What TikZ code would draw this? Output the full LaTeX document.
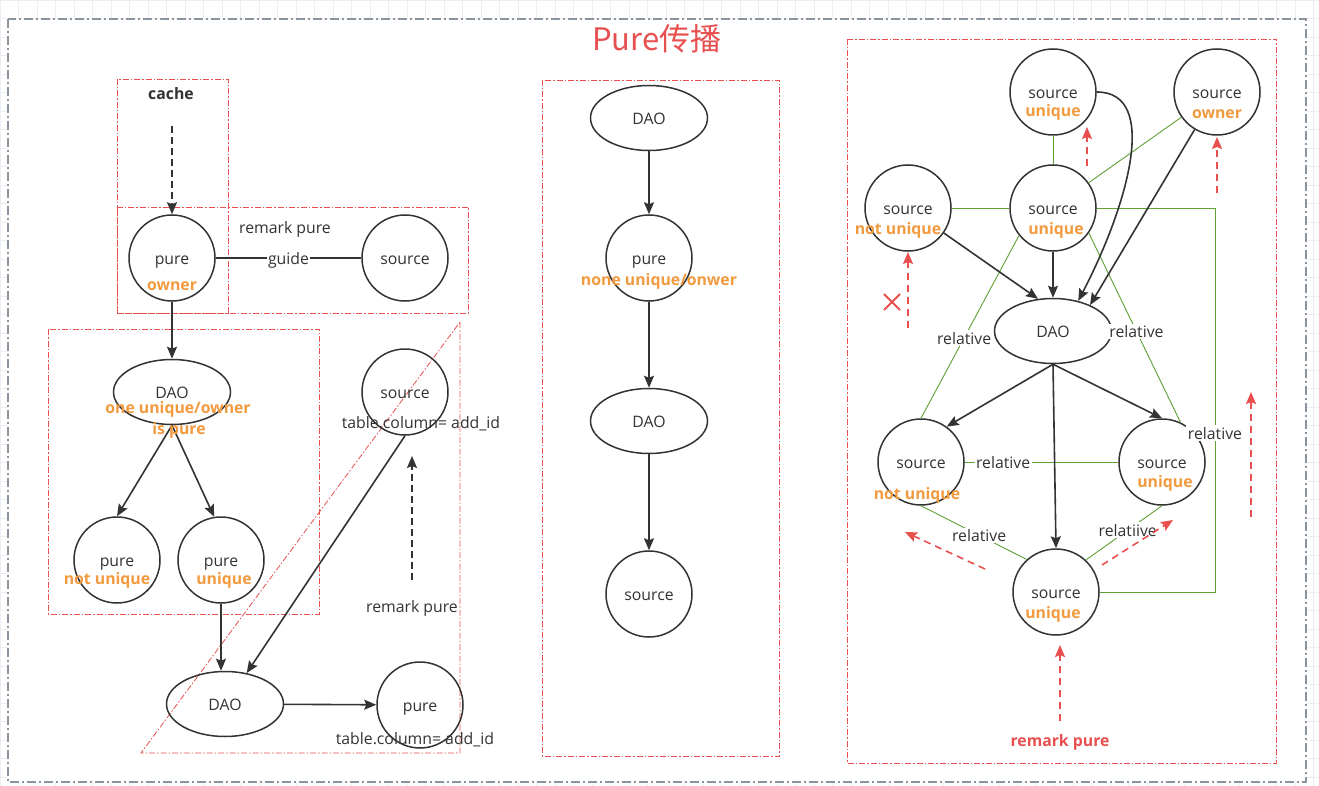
\documentclass[tikz,border=0pt]{standalone}
\usepackage{fontspec}
\setmainfont{Open Sans}
\newfontfamily\cjk{Noto Sans CJK SC}
\usetikzlibrary{shapes.geometric,arrows.meta}
\definecolor{ink}{HTML}{333333}
\definecolor{redline}{HTML}{E85050}
\definecolor{orng}{HTML}{F29A3E}
\definecolor{relgreen}{HTML}{5FA033}
\definecolor{framegray}{HTML}{8A949E}
\definecolor{gridgray}{HTML}{EDEEF2}
\newcommand{\txt}{\fontsize{15.8}{19}\selectfont}

\begin{document}
\begin{tikzpicture}[x=1pt, y=-1pt,
  every node/.style={font=\txt, text=ink, inner sep=1pt, text height=12.5pt, text depth=0pt},
  circ/.style={circle, draw=ink, line width=1.5pt, minimum size=86pt, inner sep=0pt},
  oval/.style={ellipse, draw=ink, line width=1.5pt, minimum width=117pt, minimum height=65pt, inner sep=0pt},
  hint/.style={text=orng, font=\txt\bfseries},
  lbl/.style={fill=white, inner sep=1.5pt}]
  \tikzstyle{arr}=[draw=ink, line width=1.6pt, -{Stealth[length=12pt,width=10pt,inset=2pt]}]
  \tikzstyle{dasharr}=[arr, dash pattern=on 7pt off 4pt]
  \tikzstyle{hintarr}=[draw=redline, line width=1.6pt, dash pattern=on 7pt off 5pt, -{Stealth[length=12pt,width=10pt,inset=2pt]}]
  \tikzstyle{rel}=[draw=relgreen, line width=0.9pt]
  \tikzstyle{zone}=[draw=redline, line width=0.8pt, dash pattern=on 6pt off 2pt on 1.5pt off 2pt]

\useasboundingbox (0,0) rectangle (1319,786);
\draw[gridgray, line width=0.6pt, step=18.5pt] (0,0) grid (1319,786);
\draw[draw=framegray, fill=white, line width=1.6pt, dash pattern=on 9pt off 3pt on 2pt off 3pt] (8,19) rectangle (1306,782);

\node[text=redline, font=\cjk\fontsize{31}{36}\selectfont, text height=22pt, text depth=0pt] (title) at (657,40) {Pure传播};

% zones
\draw[zone] (117,79) rectangle (228,313);
\draw[zone] (117,207) rectangle (468,313);
\draw[zone] (48,329) rectangle (319,614);
\draw[zone] (460,322) -- (460,753) -- (141,753) -- cycle;
\draw[zone] (542,80) rectangle (779,756);
\draw[zone] (847,39) rectangle (1276,763);

% left part
\node[circ] (pOwner) at (172,258) {pure};
\node[circ] (srcG) at (405,258) {source};
\node[oval] (dao1) at (172,392) {DAO};
\node[circ] (pNotU) at (117,560) {pure};
\node[circ] (pUniq) at (221,560) {pure};
\node[circ] (srcT) at (405,392) {source};
\node[oval] (dao2) at (225,704) {DAO};
\node[circ] (pureT) at (420,705) {pure};

\coordinate (cacheTail) at (172,126);
\coordinate (rmkTail) at (412,580);
\coordinate (rmkTip) at (412,456);

\draw[dasharr] (cacheTail) -- (pOwner.north);
\draw[draw=ink, line width=1.6pt] (pOwner) -- node[lbl] (guide) {guide} (srcG);
\draw[arr] (pOwner) -- (dao1);
\draw[arr] (dao1.south) -- (pNotU.north);
\draw[arr] (dao1.south) -- (pUniq.99);
\draw[arr] (pUniq.south) -- (pUniq.south |- dao2.north);
\draw[arr] (srcT.south) -- (dao2.55);
\draw[arr] (dao2) -- (pureT);
\draw[dasharr] (rmkTail) -- (rmkTip);

\node[font=\txt\bfseries] (cache) at (171,93) {cache};
\node (rmkA) at (285,227) {remark pure};
\node[hint] (hOwner) at (172,284) {owner};
\node[hint] (hOne) at (178,407) {one unique/owner};
\node[hint] (hIs) at (179,428) {is pure};
\node[hint] (hNotU) at (107,578) {not unique};
\node[hint] (hUniq) at (224,578) {unique};
\node (colT) at (421,422) {table.column= add\_id};
\node (rmkB) at (412,606) {remark pure};
\node (colB) at (415,738) {table.column= add\_id};

% middle part
\node[oval] (daoM1) at (649,118) {DAO};
\node[circ] (pureM) at (649,258) {pure};
\node[oval] (daoM2) at (649,421) {DAO};
\node[circ] (srcM) at (649,594) {source};
\draw[arr] (daoM1) -- (pureM);
\draw[arr] (pureM) -- (daoM2);
\draw[arr] (daoM2) -- (srcM);
\node[hint] (hNone) at (659,279) {none unique/onwer};

% right part
\node[circ] (sU1) at (1053,92) {source};
\node[circ] (sOwner) at (1217,92) {source};
\node[circ] (sNotU) at (908,208) {source};
\node[circ] (sU2) at (1053,208) {source};
\node[oval] (dao) at (1053,331) {DAO};
\node[circ] (sNotU2) at (921,462) {source};
\node[circ] (sU3) at (1162,462) {source};
\node[circ] (sU4) at (1056,592) {source};

\coordinate (relR) at (1215,433);
\draw[rel] (sU1) -- (sU2);
\draw[rel] (sOwner) -- (sU2);
\draw[rel] (sNotU) -- (sU2);
\draw[rel] (sU2.east) -| (relR) |- (sU4.east);
\draw[rel] (sU2.219) -- node[lbl, pos=0.56] (lA) {relative} (sNotU2.north);
\draw[rel] (sU2.-35) -- node[lbl, pos=0.52] (lB) {relative} (sU3.65);
\draw[rel] (sNotU2) -- node[lbl, pos=0.25] (lC) {relative} (sU3);
\draw[rel] (sNotU2.south) -- node[lbl, pos=0.55] (lD) {relative} (sU4.132);
\draw[rel] (sU3.south) -- node[lbl, pos=0.45] (lE) {relatiive} (sU4.47);
\node[lbl] (lR) at (relR) {relative};

\draw[arr] (sU2) -- (dao);
\draw[arr] (sNotU) -- (dao.115);
\draw[arr] (sU1.east) .. controls (1160,92) and (1128,205) .. (dao.50);
\draw[arr] (sOwner) -- (dao.35);
\draw[arr] (dao.south) -- (sNotU2.54);
\draw[arr] (dao.south) -- (sU3.north);
\draw[arr] (dao.south) -- (sU4.north);

\coordinate (tU1) at (1087,166);   \coordinate (hU1) at (1087,127);
\coordinate (tOw) at (1217,193);   \coordinate (hOw) at (1217,137);
\coordinate (tNo) at (908,328);    \coordinate (hNo) at (908,252);
\coordinate (tRt) at (1251,517);   \coordinate (hRt) at (1251,392);
\coordinate (tBl) at (985,569);    \coordinate (hBl) at (905,532);
\coordinate (tBr) at (1102,565);   \coordinate (hBr) at (1173,520);
\coordinate (tBm) at (1060,721);   \coordinate (hBm) at (1060,645);
\draw[hintarr] (tU1) -- (hU1);
\draw[hintarr] (tOw) -- (hOw);
\draw[hintarr] (tNo) -- (hNo);
\draw[hintarr] (tRt) -- (hRt);
\draw[hintarr] (tBl) -- (hBl);
\draw[hintarr] (tBr) -- (hBr);
\draw[hintarr] (tBm) -- (hBm);
\draw[redline, line width=2pt] (884,294) -- (900,310) (884,310) -- (900,294);

\node[hint] (rU1) at (1053,110) {unique};
\node[hint] (rOw) at (1217,112) {owner};
\node[hint] (rNo) at (898,228) {not unique};
\node[hint] (rU2) at (1056,228) {unique};
\node[hint] (rNo2) at (917,493) {not unique};
\node[hint] (rU3) at (1165,481) {unique};
\node[hint] (rU4) at (1053,612) {unique};
\node[text=redline, font=\txt\bfseries] (rmkC) at (1060,740) {remark pure};

\end{tikzpicture}
\end{document}
